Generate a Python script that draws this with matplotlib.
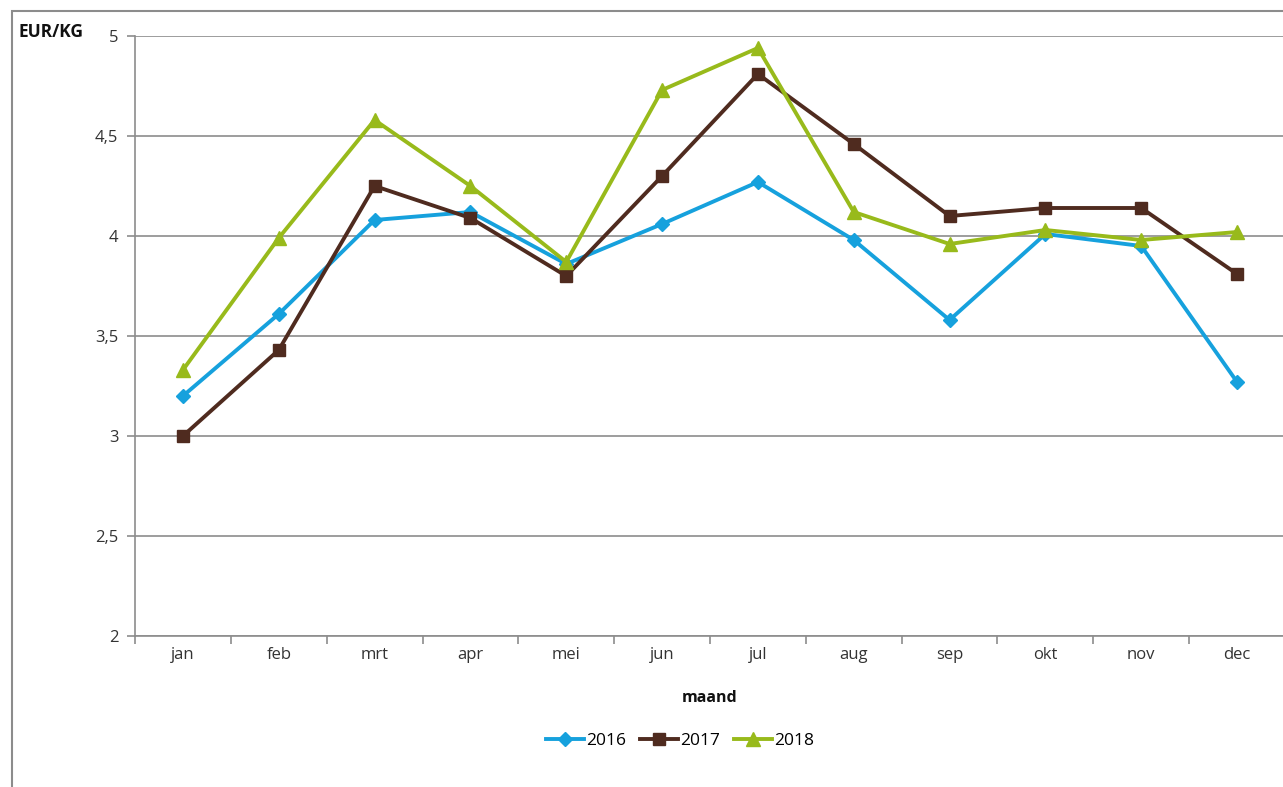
import matplotlib.pyplot as plt
from matplotlib.patches import Rectangle
from matplotlib.ticker import FixedLocator, FuncFormatter

plt.rcParams['font.family'] = ['Open Sans', 'DejaVu Sans']

months = ["jan", "feb", "mrt", "apr", "mei", "jun", "jul", "aug", "sep", "okt", "nov", "dec"]
prices2016 = [3.20, 3.61, 4.08, 4.12, 3.86, 4.06, 4.27, 3.98, 3.58, 4.01, 3.95, 3.27]
prices2017 = [3.00, 3.43, 4.25, 4.09, 3.80, 4.30, 4.81, 4.46, 4.10, 4.14, 4.14, 3.81]
prices2018 = [3.33, 3.99, 4.58, 4.25, 3.87, 4.73, 4.94, 4.12, 3.96, 4.03, 3.98, 4.02]

colors = {"2016": "#16a1dd", "2017": "#4f2b1f", "2018": "#98ba1b"}

fig = plt.figure(figsize=(12.83, 7.87), dpi=100)
ax = fig.add_axes([135 / 1283, 1 - 636 / 787, 1150 / 1283, 600 / 787])

x = list(range(len(months)))
ax.plot(x, prices2016, color=colors["2016"], lw=2.8, marker="D", ms=7, label="2016")
ax.plot(x, prices2017, color=colors["2017"], lw=2.8, marker="s", ms=9, label="2017")
ax.plot(x, prices2018, color=colors["2018"], lw=2.8, marker="^", ms=10, label="2018")

ax.set_xlim(-0.5, len(months) - 0.5)
ax.set_ylim(2, 5)
ax.set_yticks([2, 2.5, 3, 3.5, 4, 4.5, 5])
ax.yaxis.set_major_formatter(FuncFormatter(lambda v, p: f"{v:g}".replace(".", ",")))
ax.grid(axis="y", color="#8c8c8c", lw=1.2)
ax.set_axisbelow(True)

ax.xaxis.set_major_locator(FixedLocator([i - 0.5 for i in range(len(months) + 1)]))
ax.xaxis.set_minor_locator(FixedLocator(x))
ax.set_xticklabels([])
ax.set_xticklabels(months, minor=True)
ax.tick_params(axis="x", which="major", length=6, color="#8c8c8c", width=1.2)
ax.tick_params(axis="x", which="minor", length=0, pad=8, labelsize=12, labelcolor="#333333")
ax.tick_params(axis="y", length=6, color="#8c8c8c", width=1.2, labelsize=12, labelcolor="#333333", pad=6)

for side in ["top", "right"]:
    ax.spines[side].set_visible(False)
for side in ["left", "bottom"]:
    ax.spines[side].set_color("#8c8c8c")
    ax.spines[side].set_linewidth(1.2)

fig.text(18 / 1283, 1 - 32 / 787, "EUR/KG", fontsize=12.5, fontweight="bold", va="center", ha="left", color="#111111")
fig.text(710 / 1283, 1 - 698 / 787, "maand", fontsize=11.5, fontweight="bold", va="center", ha="center", color="#111111")

ax.legend(loc="center", bbox_to_anchor=(680 / 1283, 1 - 741 / 787), bbox_transform=fig.transFigure,
          ncol=3, frameon=False, fontsize=12.5, handlelength=2.2, handletextpad=0.1, columnspacing=0.8)

fig.patches.append(Rectangle((12 / 1283, -0.1), 1.2, 1.1 - 11 / 787, transform=fig.transFigure,
                             fill=False, edgecolor="#8c8c8c", lw=1.5))

fig.savefig("out.png", dpi=100)
